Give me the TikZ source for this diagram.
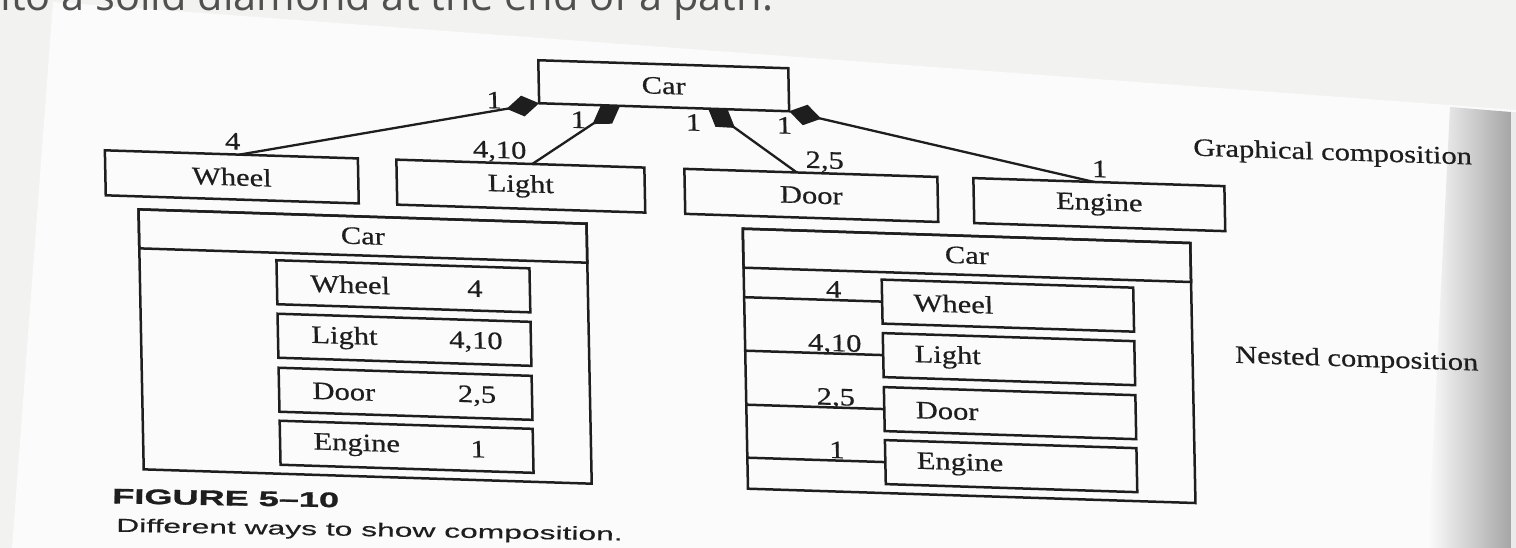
\documentclass[tikz,border=0pt]{standalone}
\usepackage{fontspec}
\setmainfont{Liberation Serif}
\newfontfamily\dfont[FakeStretch=1.22,FakeBold=0.6]{Liberation Serif}
\newfontfamily\capfont[FakeStretch=1.7,FakeBold=0.4]{Liberation Sans}
\newfontfamily\capbold[FakeStretch=1.72,FakeBold=1.4]{Liberation Sans Bold}
\newfontfamily\topfont{Open Sans}
\usetikzlibrary{arrows.meta}
\definecolor{ink}{HTML}{1E1E1E}
\definecolor{slidebg}{HTML}{F2F2F0}
\definecolor{paper}{HTML}{FBFBFB}
\definecolor{toptext}{HTML}{505050}
\begin{document}
\begin{tikzpicture}[x=1pt,y=-1pt,
  box/.style={draw=ink, line width=2.5pt, rectangle, inner sep=0pt, outer sep=0pt,
    font={\dfont\fontsize{25pt}{30pt}\selectfont}, text=ink},
  inbox/.style={box, minimum height=44pt, align=left},
  mult/.style={font={\dfont\fontsize{25pt}{30pt}\selectfont}, text=ink, inner sep=0pt, anchor=base},
  side/.style={font={\dfont\fontsize{25pt}{30pt}\selectfont}, text=ink, inner sep=0pt},
  comp/.style={draw=ink, line width=2.3pt, -{Diamond[length=33pt,width=21pt,fill=ink]}},
  link/.style={draw=ink, line width=2.5pt}]
\useasboundingbox (0,0) rectangle (1516,548);
\clip (0,0) rectangle (1516,548);
% slide background and scanned page
\fill[slidebg] (0,0) rectangle (1516,548);
\fill[paper] (53,2) -- (1516,110) -- (1516,548) -- (12,548) -- cycle;
\shade[left color=paper, right color=black!35] (1450,107) -- (1511,112) -- (1511,548) -- (1428,548) -- cycle;
\fill[black!8] (1511,112) -- (1516,112) -- (1516,548) -- (1511,548) -- cycle;
\node[anchor=base west, inner sep=0pt, text=toptext, font={\topfont\fontsize{41.5pt}{50pt}\selectfont}] (toptxt) at (-25,11) {into a solid diamond at the end of a path.};

\begin{scope}[cm={1,-0.032,-0.02,1,(-6pt,21.12pt)}, transform shape]
% graphical composition
\node[box, minimum width=250pt, minimum height=43pt] (car) at (668,85.5) {Car};
\node[box, minimum width=253pt, minimum height=45pt] (wheel) at (234,190.5) {Wheel};
\node[box, minimum width=248pt, minimum height=45pt] (light) at (523,190.5) {Light};
\node[box, minimum width=253pt, minimum height=45pt] (door) at (813.5,190.5) {Door};
\node[box, minimum width=251pt, minimum height=45pt] (engine) at (1101.5,190.5) {Engine};
\draw[comp] (wheel.70) -- (car.south west);
\draw[comp] (light.62) -- (car.206);
\draw[comp] (door.122) -- (car.334);
\draw[comp] (engine.102) -- (car.south east);
\node[mult] (m1) at (498,113.5) {1};
\node[mult] (m2) at (582,130.5) {1};
\node[mult] (m3) at (697,129.5) {1};
\node[mult] (m4) at (788,129.5) {1};
\node[mult] (n1) at (235.6,163) {4};
\node[mult] (n2) at (502.6,163) {4,10};
\node[mult] (n3) at (827.6,163) {2,5};
\node[mult] (n4) at (1102.6,163) {1};
\node[side, anchor=base] (gc) at (1336,138.4) {Graphical composition};

% nested composition, left
\node[box, minimum width=448pt, minimum height=260pt] (lnest) at (364,356) {};
\node[box, minimum width=448pt, minimum height=39pt] (ltitle) at (364,245.5) {Car};
\node[inbox, text width=186pt, inner xsep=33.5pt] (lwheel) at (403.5,294.5) {Wheel};
\node[inbox, text width=186pt, inner xsep=33.5pt] (llight) at (403.5,348) {Light};
\node[inbox, text width=186pt, inner xsep=33.5pt] (ldoor) at (403.5,402) {Door};
\node[inbox, text width=186pt, inner xsep=33.5pt] (lengine) at (403.5,455) {Engine};
\node[side] (lw4) at (475,294.5) {4};
\node[side] (ll4) at (475,348) {4,10};
\node[side] (ld2) at (475,402) {2,5};
\node[side] (le1) at (475,455) {1};

% nested composition, right
\node[box, minimum width=447.5pt, minimum height=260pt] (rnest) at (968,356) {};
\node[box, minimum width=447.5pt, minimum height=39pt] (rtitle) at (968,245.5) {Car};
\node[inbox, text width=188.5pt, inner xsep=31.5pt] (rwheel) at (1008,294.5) {Wheel};
\node[inbox, text width=188.5pt, inner xsep=31.5pt] (rlight) at (1008,348) {Light};
\node[inbox, text width=188.5pt, inner xsep=31.5pt] (rdoor) at (1008,402) {Door};
\node[inbox, text width=188.5pt, inner xsep=31.5pt] (rengine) at (1008,455) {Engine};
\coordinate (r1) at (744.25,294.5);
\coordinate (r2) at (744.25,348);
\coordinate (r3) at (744.25,402);
\coordinate (r4) at (744.25,455);
\draw[link] (r1) -- (rwheel.west);
\draw[link] (r2) -- (rlight.west);
\draw[link] (r3) -- (rdoor.west);
\draw[link] (r4) -- (rengine.west);
\node[mult] (rw4) at (834,292) {4};
\node[mult] (rl4) at (834,345.5) {4,10};
\node[mult] (rd2) at (834,399.5) {2,5};
\node[mult] (re1) at (834,452.5) {1};
\node[side, anchor=base] (nc) at (1356,344.4) {Nested composition};
\end{scope}

% caption
\node[anchor=base west, inner sep=0pt, text=ink, rotate=-1, font={\capbold\fontsize{21pt}{25pt}\selectfont}] (fig) at (112,503.3) {FIGURE 5–10};
\node[anchor=base west, inner sep=0pt, text=ink, rotate=-1, font={\capfont\fontsize{18.7pt}{22pt}\selectfont}] (cap) at (116,531.7) {Different ways to show composition.};
\end{tikzpicture}
\end{document}
